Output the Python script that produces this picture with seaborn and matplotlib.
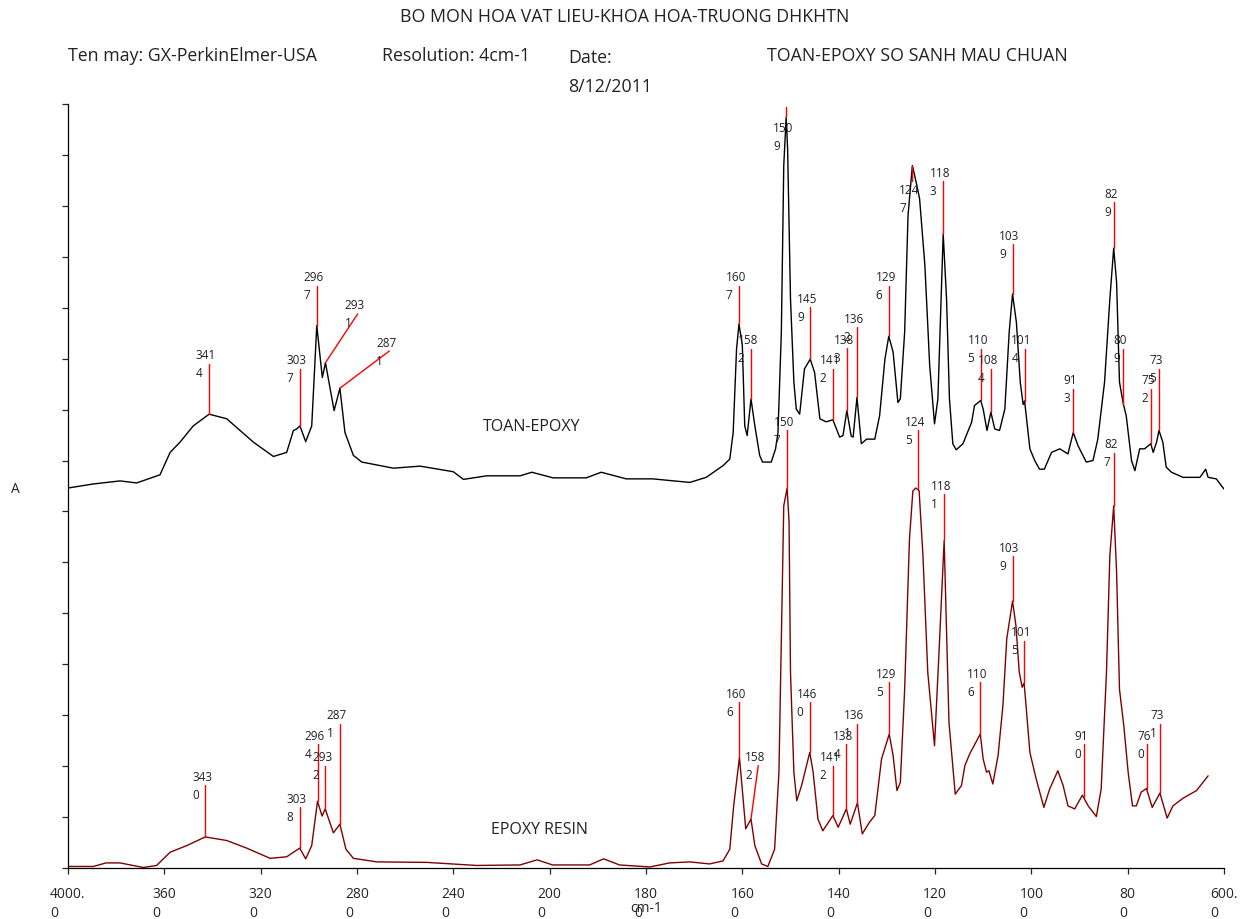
import numpy as np
import seaborn as sns
import matplotlib
matplotlib.use("Agg")
import matplotlib.pyplot as plt
import matplotlib.transforms as mtransforms

# TOAN-EPOXY spectrum (black), wavenumber cm-1 / absorbance (arbitrary units)
toan_wn = [4000, 3895, 3784, 3715, 3618, 3576, 3535, 3480, 3414, 3341, 3230, 3147, 3092, 3064, 3050,
           3037, 3013, 2988, 2967, 2944, 2931, 2895, 2871, 2850, 2815, 2780, 2649, 2538, 2400, 2358,
           2261, 2123, 2074, 1993, 1924, 1893, 1841, 1786, 1709, 1675, 1640, 1626, 1619, 1612, 1607,
           1600, 1595, 1590, 1582, 1574, 1564, 1558, 1540, 1531, 1526, 1519, 1514, 1509, 1506, 1500,
           1493, 1488, 1481, 1471, 1459, 1450, 1439, 1426, 1412, 1398, 1391, 1383, 1374, 1370, 1362,
           1353, 1342, 1325, 1315, 1304, 1296, 1287, 1277, 1272, 1263, 1256, 1247, 1239, 1232, 1221,
           1211, 1201, 1194, 1183, 1176, 1170, 1163, 1156, 1142, 1124, 1118, 1105, 1100, 1092, 1084,
           1076, 1066, 1055, 1046, 1039, 1031, 1023, 1017, 1014, 1003, 993, 983, 973, 958, 941,
           924, 913, 903, 886, 872, 862, 848, 837, 829, 823, 817, 809, 803, 792, 785,
           775, 765, 752, 747, 740, 735, 727, 720, 709, 685, 650, 638, 633, 616, 600]
toan_abs = [7.46, 7.54, 7.60, 7.56, 7.72, 8.16, 8.36, 8.68, 8.91, 8.82, 8.36, 8.08, 8.16, 8.59, 8.62,
            8.68, 8.37, 8.68, 10.65, 9.63, 9.92, 8.98, 9.42, 8.55, 8.10, 7.97, 7.85, 7.89, 7.78, 7.63,
            7.70, 7.70, 7.77, 7.66, 7.66, 7.77, 7.64, 7.64, 7.57, 7.67, 7.90, 8.03, 8.55, 10.19, 10.68,
            10.26, 8.68, 8.49, 9.21, 8.68, 8.10, 7.97, 7.97, 8.23, 8.55, 10.52, 13.79, 14.74, 14.12, 11.17,
            9.54, 9.01, 8.91, 9.80, 9.99, 9.73, 8.82, 8.76, 8.80, 8.46, 8.49, 8.98, 8.48, 8.46, 9.24,
            8.33, 8.42, 8.42, 8.88, 9.99, 10.44, 10.13, 9.14, 9.21, 10.52, 12.81, 13.79, 13.46, 13.14, 11.83,
            9.86, 8.72, 9.21, 12.45, 11.17, 9.21, 8.33, 8.21, 8.33, 8.75, 9.08, 9.18, 9.01, 8.59, 8.95,
            8.62, 8.59, 9.01, 10.52, 11.27, 10.71, 9.54, 9.10, 9.17, 8.23, 8.00, 7.83, 7.83, 8.16, 8.23,
            8.13, 8.55, 8.29, 7.97, 8.00, 8.42, 9.54, 11.17, 12.17, 11.50, 9.54, 9.11, 8.88, 8.00, 7.80,
            8.23, 8.23, 8.33, 8.16, 8.36, 8.59, 8.36, 7.87, 7.77, 7.67, 7.67, 7.83, 7.67, 7.64, 7.44]

# EPOXY RESIN spectrum (dark red)
resin_wn = [4000, 3895, 3842, 3784, 3687, 3632, 3576, 3507, 3430, 3341, 3258, 3161, 3092, 3038, 3013,
            2988, 2964, 2945, 2932, 2898, 2871, 2846, 2815, 2718, 2510, 2303, 2123, 2052, 1994, 1917,
            1888, 1855, 1792, 1751, 1709, 1668, 1640, 1626, 1618, 1606, 1602, 1593, 1582, 1574, 1560,
            1547, 1533, 1524, 1519, 1514, 1507, 1503, 1500, 1493, 1487, 1477, 1460, 1453, 1443, 1433,
            1412, 1401, 1384, 1376, 1361, 1351, 1336, 1325, 1311, 1295, 1287, 1279, 1272, 1263, 1253,
            1246, 1240, 1233, 1225, 1215, 1201, 1192, 1181, 1177, 1171, 1158, 1145, 1138, 1128, 1106,
            1100, 1093, 1088, 1080, 1069, 1059, 1051, 1039, 1032, 1025, 1019, 1015, 1011, 1003, 990,
            974, 962, 945, 934, 924, 910, 894, 882, 865, 855, 844, 837, 829, 823, 817,
            808, 799, 790, 782, 772, 761, 749, 733, 718, 706, 685, 657, 633]
resin_abs = [0.03, 0.03, 0.10, 0.10, 0.01, 0.05, 0.31, 0.44, 0.61, 0.54, 0.39, 0.19, 0.22, 0.39, 0.18,
             0.44, 1.31, 1.02, 1.16, 0.69, 0.86, 0.37, 0.19, 0.12, 0.11, 0.05, 0.06, 0.16, 0.06, 0.06,
             0.18, 0.06, 0.02, 0.10, 0.12, 0.08, 0.14, 0.37, 1.22, 2.17, 1.75, 0.77, 0.96, 0.44, 0.08,
             0.03, 0.37, 1.88, 4.50, 7.11, 7.46, 6.79, 3.84, 1.88, 1.32, 1.62, 2.27, 1.88, 0.96, 0.73,
             1.03, 0.80, 1.16, 0.86, 1.28, 0.67, 0.90, 1.03, 2.14, 2.63, 2.21, 1.52, 1.68, 3.51, 6.46,
             7.40, 7.46, 7.41, 6.13, 3.84, 2.40, 4.17, 6.43, 5.00, 2.86, 1.45, 1.62, 2.01, 2.24, 2.63,
             2.14, 1.88, 1.91, 1.65, 2.21, 3.19, 4.50, 5.24, 4.76, 3.84, 3.55, 3.63, 3.19, 2.27, 1.75,
             1.19, 1.55, 1.91, 1.62, 1.22, 1.16, 1.43, 1.22, 1.01, 1.55, 3.84, 6.13, 7.11, 5.81, 3.51,
             2.79, 1.88, 1.22, 1.22, 1.49, 1.56, 1.19, 1.47, 0.98, 1.22, 1.37, 1.52, 1.81]

# peak labels (the software wraps the numbers onto two lines)
toan_labels = ["341\n4", "303\n7", "296\n7", "293\n1", "287\n1", "160\n7", "158\n2", "150\n9",
               "145\n9", "141\n2", "138\n3", "136\n2", "129\n6", "124\n7", "118\n3", "110\n5",
               "108\n4", "103\n9", "101\n4", "91\n3", "82\n9", "80\n9", "75\n2", "73\n5"]
toan_peak_wn = [3414, 3037, 2967, 2931, 2871, 1607, 1582, 1509, 1459, 1412, 1383, 1362, 1296, 1247,
                1183, 1105, 1084, 1039, 1014, 913, 829, 809, 752, 735]
toan_peak_abs = [8.91, 8.68, 10.65, 9.92, 9.42, 10.68, 9.21, 14.74, 9.99, 8.80, 8.98, 9.24, 10.44,
                 13.79, 12.45, 9.18, 8.95, 11.27, 9.17, 8.55, 12.17, 9.11, 8.33, 8.59]
toan_tag_wn = [3414, 3037, 2967, 2797, 2666, 1607, 1582, 1509, 1459, 1412, 1383, 1362, 1296, 1247,
               1183, 1105, 1084, 1039, 1014, 913, 829, 809, 752, 735]
toan_tag_abs = [9.90, 9.80, 11.43, 10.88, 10.15, 11.43, 10.19, 14.94, 11.01, 9.80, 10.20, 10.62, 11.43,
                13.48, 13.48, 10.19, 9.80, 12.25, 10.19, 9.41, 13.07, 10.19, 9.41, 9.80]
toan_text_abs = [9.90, 9.80, 11.43, 10.88, 10.15, 11.43, 10.19, 14.37, 11.01, 9.80, 10.20, 10.62, 11.43,
                 13.14, 13.48, 10.19, 9.80, 12.25, 10.19, 9.41, 13.07, 10.19, 9.41, 9.80]

resin_labels = ["343\n0", "303\n8", "296\n4", "293\n2", "287\n1", "160\n6", "158\n2", "150\n7",
                "146\n0", "141\n2", "138\n4", "136\n1", "129\n5", "124\n5", "118\n1", "110\n6",
                "103\n9", "101\n5", "91\n0", "82\n7", "76\n0", "73\n1"]
resin_peak_wn = [3430, 3038, 2964, 2932, 2871, 1606, 1582, 1507, 1460, 1412, 1384, 1361, 1295, 1235,
                 1181, 1106, 1039, 1015, 891, 829, 760, 733]
resin_peak_abs = [0.61, 0.39, 1.31, 1.16, 0.86, 2.17, 0.96, 7.46, 2.27, 1.03, 1.16, 1.28, 2.63, 7.44,
                  6.43, 2.63, 5.24, 3.63, 1.40, 7.11, 1.56, 1.47]
resin_tag_wn = [3430, 3038, 2964, 2932, 2871, 1606, 1567, 1507, 1460, 1412, 1384, 1361, 1295, 1235,
                1181, 1106, 1039, 1015, 891, 829, 760, 733]
resin_tag_abs = [1.62, 1.19, 2.43, 2.01, 2.83, 3.25, 2.01, 8.59, 3.25, 2.01, 2.43, 2.83, 3.65, 8.59,
                 7.34, 3.65, 6.12, 4.46, 2.43, 8.15, 2.43, 2.83]

tick_wn = [4000, 3600, 3200, 2800, 2400, 2000, 1800, 1600, 1400, 1200, 1000, 800, 600]
tick_labels = ["4000.\n0", "360\n0", "320\n0", "280\n0", "240\n0", "200\n0", "180\n0",
               "160\n0", "140\n0", "120\n0", "100\n0", "80\n0", "600.\n0"]


def forward(x):
    # scale change at 2000 cm-1: the high range is compressed by 2
    x = np.asarray(x, dtype=float)
    return np.where(x > 2000, 2000 + (x - 2000) / 2, x)


def inverse(x):
    x = np.asarray(x, dtype=float)
    return np.where(x > 2000, 2000 + (x - 2000) * 2, x)


sns.set_style("ticks")
plt.rcParams['font.family'] = ['Open Sans', 'DejaVu Sans']

W, H = 1240, 920
fig = plt.figure(figsize=(12.4, 9.2), dpi=100)
ax = fig.add_axes([68 / W, 1 - 869 / H, (1224 - 68) / W, (869 - 105) / H])

sns.lineplot(x=toan_wn, y=toan_abs, ax=ax, color="black", lw=1.0, estimator=None, sort=False)
sns.lineplot(x=resin_wn, y=resin_abs, ax=ax, color="#7f0000", lw=1.0, estimator=None, sort=False)

ax.set_xscale('function', functions=(forward, inverse))
ax.set_xlim(4000, 600)
ax.set_ylim(0, 15)


def draw_tags(labels, pwn, pabs, twn, tabs, txt_abs):
    for lab, x0, y0, x1, y1, ty in zip(labels, pwn, pabs, twn, tabs, txt_abs):
        ax.plot([x0, x1], [y0, y1], color="#ff0000", lw=1.0, clip_on=False)
        ax.annotate(lab, xy=(x1, ty), xytext=(-2.2, 0), textcoords="offset points",
                    ha="center", va="center", multialignment="left",
                    fontsize=8.5, linespacing=1.5, color="#222222", annotation_clip=False)


draw_tags(toan_labels, toan_peak_wn, toan_peak_abs, toan_tag_wn, toan_tag_abs, toan_text_abs)
draw_tags(resin_labels, resin_peak_wn, resin_peak_abs, resin_tag_wn, resin_tag_abs, resin_tag_abs)

ax.text(2075, 8.68, "TOAN-EPOXY", ha="center", va="center", fontsize=11.5, color="#222222")
ax.text(2044, 0.77, "EPOXY RESIN", ha="center", va="center", fontsize=11.5, color="#222222")

ax.set_xticks(tick_wn)
ax.set_xticklabels(tick_labels)
shift = mtransforms.ScaledTranslation(-4 / 100, 0, fig.dpi_scale_trans)
for t in ax.get_xticklabels():
    t.set_multialignment("left")
    t.set_linespacing(1.35)
    t.set_transform(t.get_transform() + shift)
ax.set_yticks(range(16))
ax.set_yticklabels([])
ax.set_xlabel("")
ax.set_ylabel("")
ax.tick_params(axis="both", direction="out", length=4, width=0.9, labelsize=10)
ax.tick_params(axis="x", pad=9)
sns.despine(ax=ax)
for s in ("left", "bottom"):
    ax.spines[s].set_linewidth(0.9)
    ax.spines[s].set_color("black")

# header
hdr = dict(fontsize=12.8, color="#222222", va="center")
fig.text(625 / W, 1 - 17 / H, "BO MON HOA VAT LIEU-KHOA HOA-TRUONG DHKHTN", ha="center", **hdr)
fig.text(68 / W, 1 - 56 / H, "Ten may: GX-PerkinElmer-USA", ha="left", **hdr)
fig.text(382 / W, 1 - 56 / H, "Resolution: 4cm-1", ha="left", **hdr)
fig.text(568 / W, 1 - 58 / H, "Date:", ha="left", **hdr)
fig.text(568 / W, 1 - 87 / H, "8/12/2011", ha="left", **hdr)
fig.text(767 / W, 1 - 56 / H, "TOAN-EPOXY SO SANH MAU CHUAN", ha="left", **hdr)
fig.text(15 / W, 1 - 490 / H, "A", ha="center", va="center", fontsize=10, color="#222222")
fig.text(646 / W, 1 - 909 / H, "cm-1", ha="center", va="center", fontsize=10, color="#222222")

fig.savefig("out.png", dpi=100)
